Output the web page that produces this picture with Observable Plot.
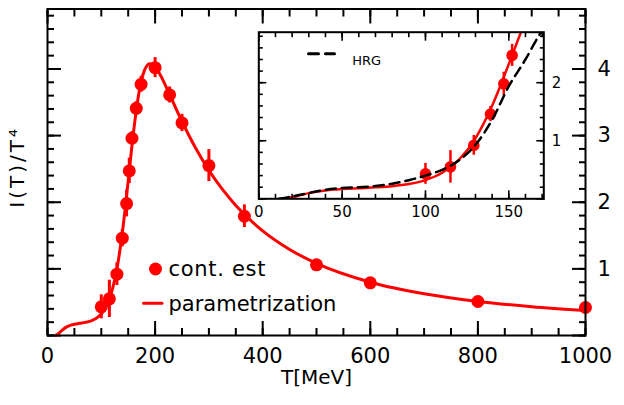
<!DOCTYPE html>
<html><head><meta charset="utf-8">
<script src="https://cdn.jsdelivr.net/npm/d3@7"></script>
<script src="https://cdn.jsdelivr.net/npm/@observablehq/plot@0.6"></script>
<style>
body{margin:0;background:#fff;}
#wrap{position:relative;width:624px;height:405px;overflow:hidden;background:#fff;}
#wrap svg{position:absolute;overflow:visible;}
</style></head><body><div id="wrap"></div>
<script>
// ---- data ----
const pointT   = [100, 115, 129, 139, 147, 152, 157, 165, 174, 200, 227, 250, 300, 366, 500, 600, 800, 1000];
const pointY   = [0.43, 0.55, 0.92, 1.46, 1.98, 2.47, 2.96, 3.41, 3.77, 4.02, 3.61, 3.19, 2.55, 1.79, 1.06, 0.79, 0.51, 0.42];
const pointErr = [0.18, 0.28, 0.17, 0.13, 0.20, 0.19, 0.10, 0.10, 0.12, 0.15, 0.12, 0.13, 0.24, 0.17, 0, 0, 0, 0];

const curveT = [15, 20, 25, 30, 35, 40, 45, 50, 60, 70, 80, 90, 100, 110, 120, 130, 140, 150, 160, 170, 180, 185, 190, 195, 200, 210, 225, 250, 275, 300, 350, 400, 450, 500, 600, 700, 800, 900, 1000];
const curveY = [0.003, 0.026, 0.063, 0.098, 0.125, 0.143, 0.159, 0.168, 0.183, 0.197, 0.217, 0.254, 0.322, 0.448, 0.672, 1.042, 1.602, 2.320, 3.061, 3.644, 3.975, 4.051, 4.079, 4.070, 4.033, 3.906, 3.653, 3.212, 2.818, 2.480, 1.952, 1.570, 1.291, 1.082, 0.800, 0.626, 0.511, 0.433, 0.376];

const hrgT = [12, 20, 25, 30, 35, 40, 50, 60, 70, 80, 90, 100, 110, 120, 130, 140, 150, 160, 167, 172];
const hrgY = [0.0, 0.04, 0.07, 0.10, 0.13, 0.155, 0.185, 0.20, 0.22, 0.26, 0.32, 0.40, 0.50, 0.66, 0.93, 1.36, 1.94, 2.40, 2.76, 3.0];

const insetPointCount = 6; // the inset shows the six lowest-temperature estimates

const mainXLabels = [0, 200, 400, 600, 800, 1000];
const mainYLabels = [1, 2, 3, 4];
const insetXLabels = [0, 50, 100, 150];
const insetYLabels = [1, 2];
const legendTexts = ["cont. est", "parametrization"];
const insetLegendText = "HRG";
const xTitle = "T[MeV]";
const yTitle = "I(T)/T\u2074";

// ---- tables ----
const points = pointT.map((T, i) => ({T, y: pointY[i], e: pointErr[i]}));
const curve = curveT.map((T, i) => ({T, y: curveY[i]}));
const hrg = hrgT.map((T, i) => ({T, y: hrgY[i]}));
const insetPoints = points.slice(0, insetPointCount);

const RED = "#ff0000";
const FONT = "DejaVu Sans";
const rng = (a, b, s) => d3.range(0, Math.round((b - a) / s) + 1).map(i => +(a + i * s).toFixed(6));
const hline = {draw(ctx, l) { ctx.moveTo(0, 0); ctx.lineTo(l, 0); }};

function frameTicks(xMinor, xMajor, yMinor, yMajor, minLen, majLen, sw) {
  const o = {label: null, fill: "none", stroke: "black", strokeWidth: sw};
  return [
    Plot.axisX({...o, anchor: "bottom", ticks: xMinor, tickSize: -minLen}),
    Plot.axisX({...o, anchor: "bottom", ticks: xMajor, tickSize: -majLen}),
    Plot.axisX({...o, anchor: "top", ticks: xMinor, tickSize: -minLen}),
    Plot.axisX({...o, anchor: "top", ticks: xMajor, tickSize: -majLen}),
    Plot.axisY({...o, anchor: "left", ticks: yMinor, tickSize: -minLen}),
    Plot.axisY({...o, anchor: "left", ticks: yMajor, tickSize: -majLen}),
    Plot.axisY({...o, anchor: "right", ticks: yMinor, tickSize: -minLen}),
    Plot.axisY({...o, anchor: "right", ticks: yMajor, tickSize: -majLen})
  ];
}

// ---- main chart ----
const main = Plot.plot({
  width: 624, height: 405,
  marginLeft: 47, marginRight: 39, marginTop: 8.5, marginBottom: 70,
  style: {fontFamily: FONT, background: "white", color: "black"},
  x: {domain: [0, 1000]},
  y: {domain: [0, 4.9]},
  marks: [
    ...frameTicks(rng(0, 1000, 50), rng(0, 1000, 200), rng(0, 4.8, 0.2), rng(0, 4, 1), 7, 14, 2),
    Plot.line(curve, {x: "T", y: "y", stroke: RED, strokeWidth: 3, curve: "monotone-x"}),
    Plot.ruleX(points.filter(d => d.e > 0), {x: "T", y1: d => d.y - d.e, y2: d => d.y + d.e, stroke: RED, strokeWidth: 3}),
    Plot.dot(points, {x: "T", y: "y", r: 6.5, fill: RED}),
    Plot.frame({stroke: "black", strokeWidth: 2}),
    Plot.axisX({anchor: "bottom", ticks: mainXLabels, tickSize: 0, tickPadding: 13, label: null, fontSize: 21, fontFamily: FONT, tickFormat: d => String(d)}),
    Plot.axisY({anchor: "right", ticks: mainYLabels, tickSize: 0, tickPadding: 12, label: null, fontSize: 21, fontFamily: FONT, tickFormat: d => String(d)}),
    // legend
    Plot.dot([0], {frameAnchor: "top-left", dx: 108, dy: 260, r: 6.5, fill: RED}),
    Plot.vector([0], {frameAnchor: "top-left", dx: 96, dy: 294.2, length: 18.5, anchor: "start", shape: hline, stroke: RED, strokeWidth: 3}),
    Plot.text([legendTexts[0]], {frameAnchor: "top-left", dx: 121, dy: 266.5, text: d => d, textAnchor: "start", lineAnchor: "bottom", fontSize: 21, fontFamily: FONT}),
    Plot.text([legendTexts[1]], {frameAnchor: "top-left", dx: 121, dy: 301.5, text: d => d, textAnchor: "start", lineAnchor: "bottom", fontSize: 21, fontFamily: FONT}),
    // axis titles
    Plot.text([xTitle], {frameAnchor: "bottom", dy: 48, text: d => d, textAnchor: "middle", lineAnchor: "bottom", fontSize: 20, fontFamily: FONT}),
    Plot.text([yTitle], {frameAnchor: "left", dx: -30, dy: 35.5, rotate: -90, text: d => d, textAnchor: "start", lineAnchor: "middle", fontSize: 20, fontFamily: FONT})
  ]
});
main.style.left = "0px"; main.style.top = "0px";
d3.select(main).selectAll("text").filter(function() { return this.textContent === yTitle; }).style("letter-spacing", "3px");
d3.select(main).selectAll("text").filter(function() { return this.textContent === legendTexts[0]; }).style("letter-spacing", "0.7px");

// ---- inset ----
const IL = 240, IT = 20;
const inset = Plot.plot({
  width: 543.3 - IL + 32, height: 198.3 - IT + 26,
  marginLeft: 258.3 - IL, marginRight: 32, marginTop: 31.7 - IT, marginBottom: 26,
  style: {fontFamily: FONT, background: "transparent", color: "black"},
  x: {domain: [0, 171]},
  y: {domain: [0, 2.87]},
  marks: [
    Plot.frame({fill: "white", stroke: null}),
    Plot.line(curve.filter(d => d.T <= 200), {x: "T", y: "y", stroke: RED, strokeWidth: 2.5, curve: "monotone-x", clip: true}),
    Plot.ruleX(insetPoints, {x: "T", y1: d => d.y - d.e, y2: d => d.y + d.e, stroke: RED, strokeWidth: 2.5}),
    Plot.dot(insetPoints, {x: "T", y: "y", r: 5.8, fill: RED}),
    Plot.line(hrg, {x: "T", y: "y", stroke: "black", strokeWidth: 2.5, strokeDasharray: "10,6", curve: "monotone-x", clip: true}),
    ...frameTicks(rng(0, 170, 10), rng(0, 150, 50), rng(0, 2.8, 0.2), rng(0, 2, 1), 4.5, 8, 1.6),
    Plot.frame({stroke: "black", strokeWidth: 2}),
    Plot.axisX({anchor: "bottom", ticks: insetXLabels, tickSize: 0, tickPadding: 8, label: null, fontSize: 15, fontFamily: FONT, tickFormat: d => String(d)}),
    Plot.axisY({anchor: "right", ticks: insetYLabels, tickSize: 0, tickPadding: 8, label: null, fontSize: 15, fontFamily: FONT, tickFormat: d => String(d)}),
    Plot.vector([0], {frameAnchor: "top-left", dx: 49.7, dy: 21.6, length: 26, anchor: "start", shape: hline, stroke: "black", strokeWidth: 3, strokeDasharray: "10,7"}),
    Plot.text([insetLegendText], {frameAnchor: "top-left", dx: 93.4, dy: 23.3, text: d => d, textAnchor: "start", fontSize: 13, fontFamily: FONT})
  ]
});
inset.style.left = IL + "px"; inset.style.top = IT + "px";

const wrap = document.getElementById("wrap");
wrap.appendChild(main);
wrap.appendChild(inset);
</script></body></html>
